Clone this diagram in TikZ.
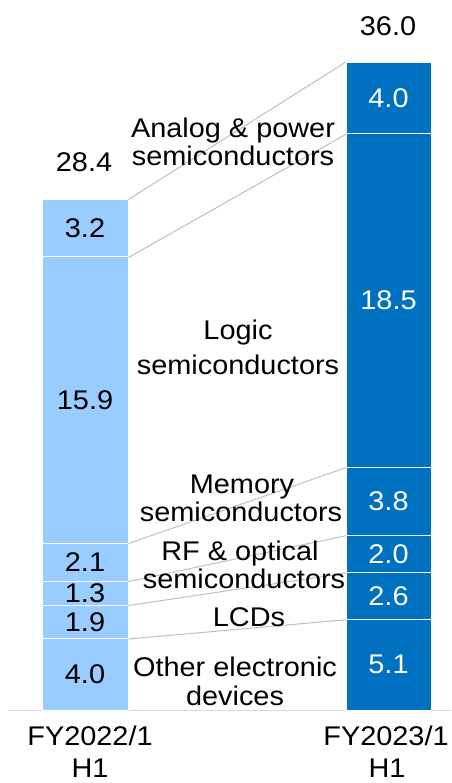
\documentclass[tikz,border=0pt]{standalone}
\usepackage{fontspec}
\setmainfont[FakeStretch=1.07]{Liberation Sans}
\definecolor{lightbar}{HTML}{99CCFF}
\definecolor{darkbar}{HTML}{0070C0}
\definecolor{conn}{HTML}{BFBFBF}
\definecolor{axisc}{HTML}{D9D9D9}
\tikzset{
  seg/.style={draw=white, line width=1pt, inner sep=0pt, font=\fontsize{27}{28}\selectfont},
  lseg/.style={seg, fill=lightbar, text=black, minimum width=86pt},
  rseg/.style={seg, fill=darkbar, text=white, minimum width=85pt},
  lbl/.style={anchor=base, inner sep=0pt, font=\fontsize{27}{28}\selectfont},
  connline/.style={draw=conn, line width=1pt},
}
\begin{document}
\begin{tikzpicture}[x=1pt,y=-1pt]
\useasboundingbox (0,0) rectangle (451,783);
% axis
\coordinate (axL) at (8,710.5);
\coordinate (axR) at (451,710.5);
\draw[axisc, line width=1.2pt] (axL) -- (axR);
% left bar
\node[lseg, minimum height=57pt]   (L6) at (85,228.5) {3.2};
\node[lseg, minimum height=286pt]  (L5) at (85,400)   {15.9};
\node[lseg, minimum height=38pt]   (L4) at (85,562)   {2.1};
\node[lseg, minimum height=24pt]   (L3) at (85,593)   {1.3};
\node[lseg, minimum height=33.5pt] (L2) at (85,621.75){1.9};
\node[lseg, minimum height=71.5pt] (L1) at (85,674.25){4.0};
% right bar
\node[rseg, minimum height=71.3pt]  (R6) at (388.5,98.35)  {4.0};
\node[rseg, minimum height=333.3pt] (R5) at (388.5,300.65) {18.5};
\node[rseg, minimum height=68pt]    (R4) at (388.5,501.3)  {3.8};
\node[rseg, minimum height=37.4pt]  (R3) at (388.5,554)    {2.0};
\node[rseg, minimum height=46.6pt]  (R2) at (388.5,596)    {2.6};
\node[rseg, minimum height=90.7pt]  (R1) at (388.5,664.65) {5.1};
% connectors
\draw[connline] (L6.north east) -- (R6.north west);
\draw[connline] (L6.south east) -- (R6.south west);
\draw[connline] (L5.south east) -- (R5.south west);
\draw[connline] (L4.south east) -- (R4.south west);
\draw[connline] (L3.south east) -- (R3.south west);
\draw[connline] (L2.south east) -- (R2.south west);
% totals
\node[lbl] (tl) at (84,172) {28.4};
\node[lbl] (tr) at (388,36) {36.0};
% category labels
\node[lbl] (an1) at (233,137.3) {Analog \& power};
\node[lbl] (an2) at (233,165.7) {semiconductors};
\node[lbl] (lo1) at (238,339) {Logic};
\node[lbl] (lo2) at (238,374.3) {semiconductors};
\node[lbl] (me1) at (242,493) {Memory};
\node[lbl] (me2) at (241,521.7) {semiconductors};
\node[lbl] (rf1) at (240,560) {RF \& optical};
\node[lbl] (rf2) at (244,588.3) {semiconductors};
\node[lbl] (lcd) at (249,626.7) {LCDs};
\node[lbl] (ot1) at (235,676.7) {Other electronic};
\node[lbl] (ot2) at (235,705) {devices};
% axis labels
\node[lbl] (fy1) at (90,745) {FY2022/1};
\node[lbl] (h1a) at (90,777) {H1};
\node[lbl] (fy2) at (386,745) {FY2023/1};
\node[lbl] (h1b) at (387,777) {H1};
\end{tikzpicture}
\end{document}
